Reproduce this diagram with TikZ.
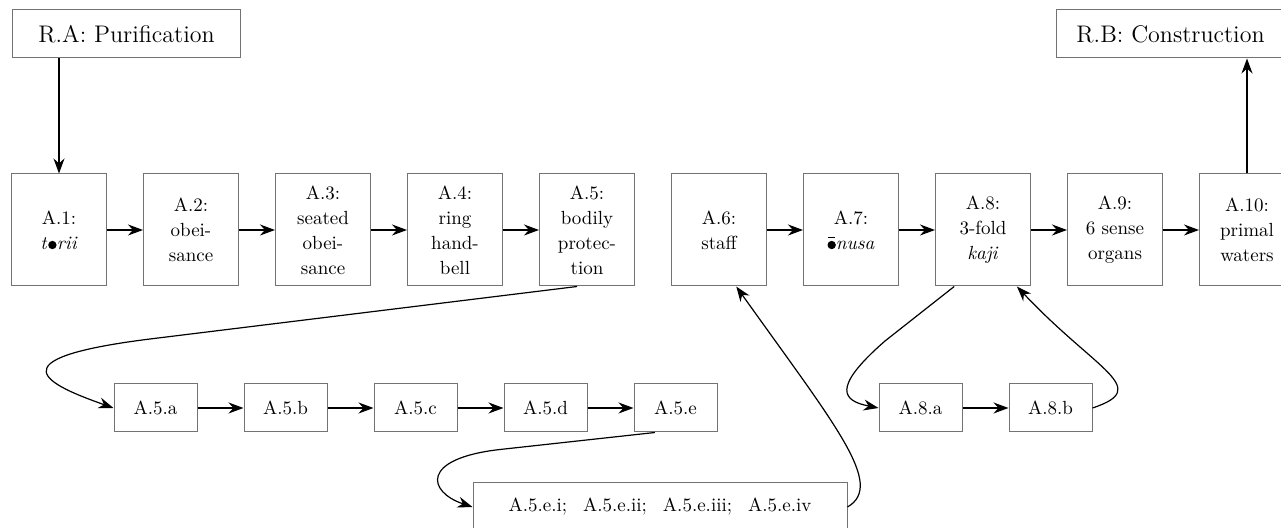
\documentclass[tikz,border=0pt]{standalone}
\usepackage{tikz}
\usetikzlibrary{positioning,arrows.meta}

\newcommand{\blob}{\kern0.08em\tikz[baseline=0pt]\fill[black] (0.23em,0.22em) circle[radius=0.22em];\kern0.02em}
\newcommand{\blobbar}{\tikz[baseline=0pt]{\fill[black] (0.23em,0.22em) circle[radius=0.22em];
    \draw[black, line width=0.05em] (0.03em,0.62em) -- (0.43em,0.62em);}}

\begin{document}
\begin{tikzpicture}[
    x=0.5pt, y=-0.5pt,
    box/.style={draw=black!55, line width=0.5pt, inner sep=2pt, align=center},
    stepbox/.style={box, minimum width=47.5pt, minimum height=56pt, font=\fontsize{9.5}{12.5}\selectfont},
    subbox/.style={box, minimum width=41.5pt, minimum height=24pt, font=\fontsize{9.5}{12.5}\selectfont},
    phasebox/.style={box, minimum width=114pt, minimum height=24pt, font=\fontsize{12}{14}\selectfont},
    arr/.style={draw, line width=0.6pt, -{Stealth[length=7.5pt,width=5.5pt]}},
]
\useasboundingbox (0,0) rectangle (1281,528);
\clip (0,0) rectangle (1281,528);

% phases
\node[phasebox] (RA) at (126.5,34) {R.A: Purification};
\node[phasebox] (RB) at (1170.5,34) {R.B: Construction};

% main row
\node[stepbox] (A1) at (59,230) {A.1:\\\emph{t\blob rii}};
\node[stepbox, right=18pt of A1] (A2) {A.2:\\obei-\\sance};
\node[stepbox, right=18pt of A2] (A3) {A.3:\\seated\\obei-\\sance};
\node[stepbox, right=18pt of A3] (A4) {A.4:\\ring\\hand-\\bell};
\node[stepbox, right=18pt of A4] (A5) {A.5:\\bodily\\protec-\\tion};
\node[stepbox, right=18pt of A5] (A6) {A.6:\\staff};
\node[stepbox, right=18pt of A6] (A7) {A.7:\\\emph{\blobbar nusa}};
\node[stepbox, right=18pt of A7] (A8) {A.8:\\3-fold\\\emph{kaji}};
\node[stepbox, right=18pt of A8] (A9) {A.9:\\6 sense\\organs};
\node[stepbox, right=18pt of A9] (A10) {A.10:\\primal\\waters};

% sub-steps
\node[subbox] (A5a) at (155.5,408) {A.5.a};
\node[subbox, right=23pt of A5a] (A5b) {A.5.b};
\node[subbox, right=23pt of A5b] (A5c) {A.5.c};
\node[subbox, right=23pt of A5c] (A5d) {A.5.d};
\node[subbox, right=23pt of A5d] (A5e) {A.5.e};
\node[subbox, minimum width=187pt] (A5ei) at (660,507)
    {A.5.e.i;\hspace{8pt}A.5.e.ii;\hspace{8pt}A.5.e.iii;\hspace{8pt}A.5.e.iv};
\node[subbox] (A8a) at (920.5,408) {A.8.a};
\node[subbox, right=23pt of A8a] (A8b) {A.8.b};

% where the loops start to turn
\coordinate (turnA5) at (150,339);
\coordinate (turnA5e) at (500,449.5);
\coordinate (turnA8) at (885,341);

% straight arrows
\draw[arr] (RA.south -| A1.north) -- (A1.north);
\draw[arr] (A10.north) -- (A10.north |- RB.south);
\draw[arr] (A1.east) -- (A2.west);
\draw[arr] (A2.east) -- (A3.west);
\draw[arr] (A3.east) -- (A4.west);
\draw[arr] (A4.east) -- (A5.west);
\draw[arr] (A6.east) -- (A7.west);
\draw[arr] (A7.east) -- (A8.west);
\draw[arr] (A8.east) -- (A9.west);
\draw[arr] (A9.east) -- (A10.west);
\draw[arr] (A5a.east) -- (A5b.west);
\draw[arr] (A5b.east) -- (A5c.west);
\draw[arr] (A5c.east) -- (A5d.west);
\draw[arr] (A5d.east) -- (A5e.west);
\draw[arr] (A8a.east) -- (A8b.west);

% curved arrows
\draw[arr] (A5.-100) -- (turnA5) .. controls +(-160,20) and +(-65,-23) .. (A5a.west);
\draw[arr] (A5e.-130) -- (turnA5e) .. controls +(-80,9) and +(-45,-15) .. (A5ei.west);
\draw[arr] (A5ei.east) .. controls +(38,-22) and +(99,139) .. (A6.-73);
\draw[arr] (A8.-117) -- (turnA8) .. controls +(-55,48) and +(-35,-7) .. (A8a.west);
\draw[arr] (A8b.east) .. controls +(60,-20) and +(80,85) .. (A8.-59);

\end{tikzpicture}
\end{document}
